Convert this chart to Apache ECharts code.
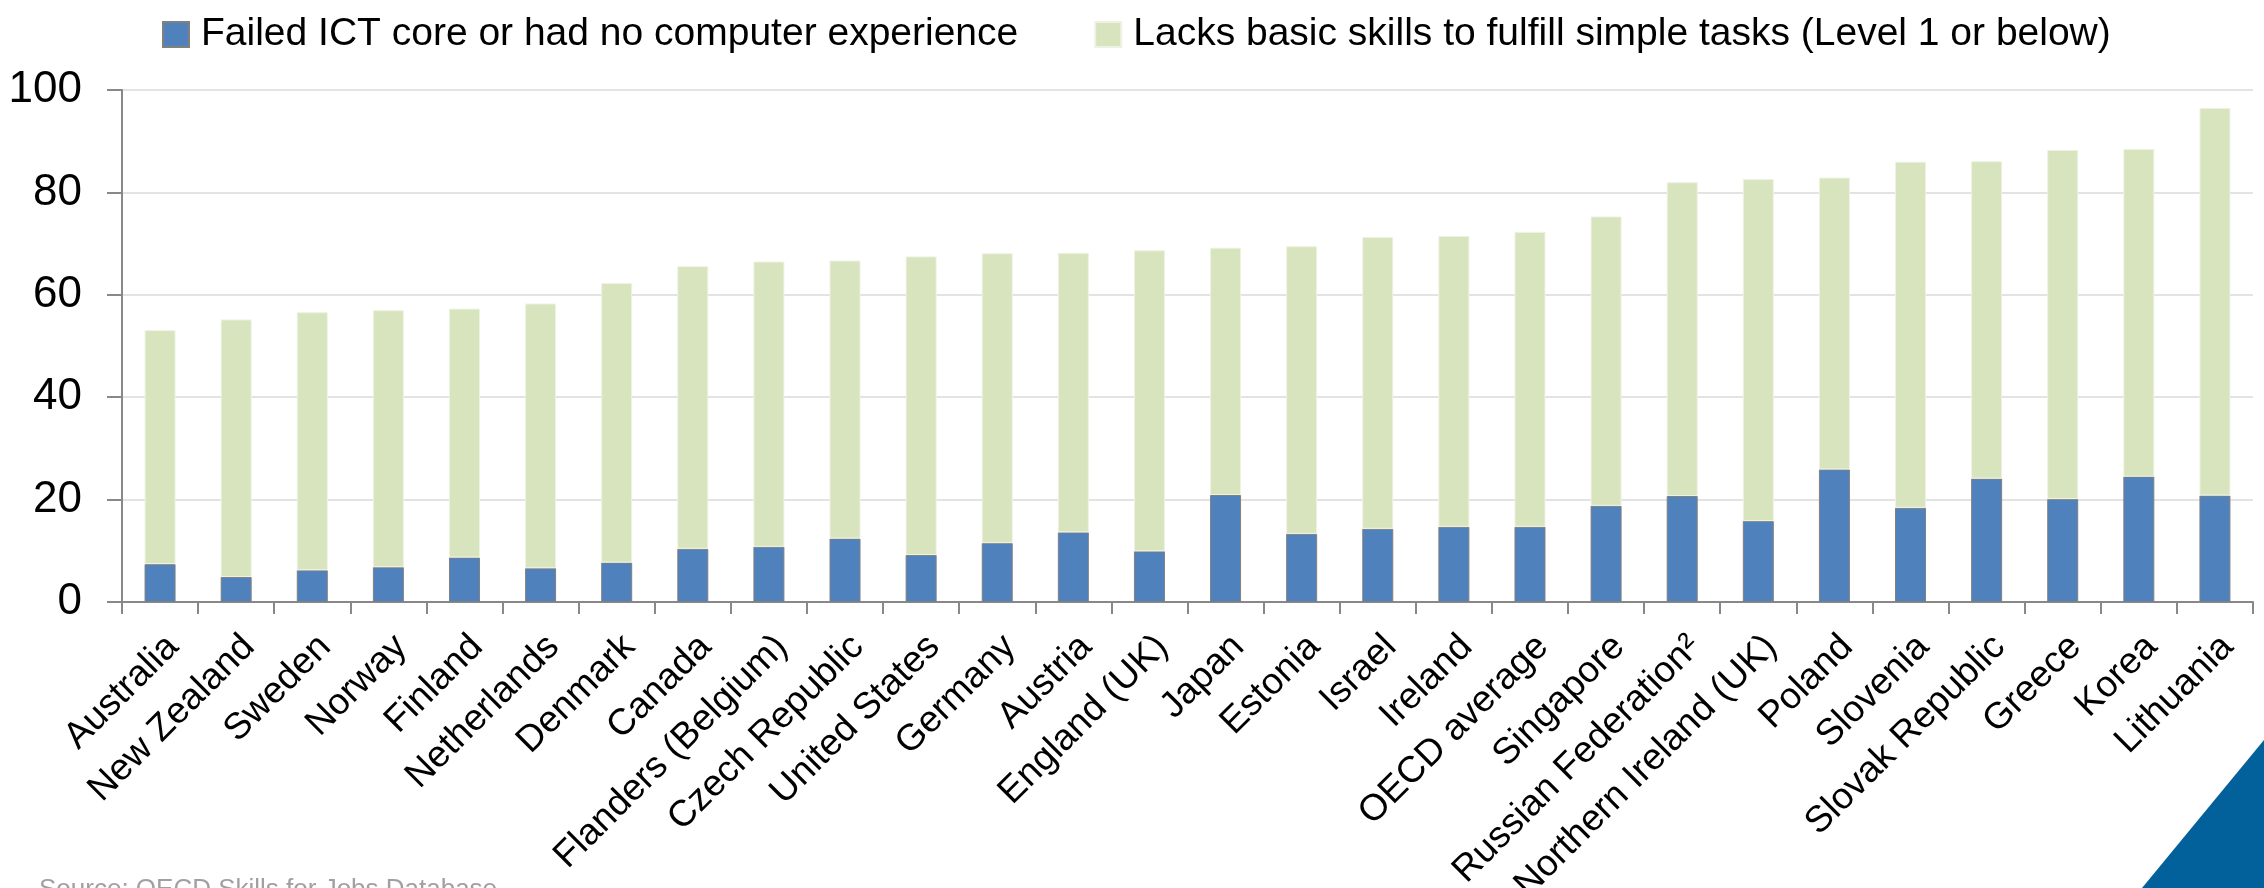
<!DOCTYPE html>
<html>
<head>
<meta charset="utf-8">
<script src="https://cdn.jsdelivr.net/npm/echarts@6/dist/echarts.min.js"></script>
<style>
html,body{margin:0;padding:0;background:#fff;}
#c{width:2264px;height:888px;}
</style>
</head>
<body>
<div id="c"></div>
<script>
const categories = ["Australia","New Zealand","Sweden","Norway","Finland","Netherlands","Denmark","Canada","Flanders (Belgium)","Czech Republic","United States","Germany","Austria","England (UK)","Japan","Estonia","Israel","Ireland","OECD average","Singapore","Russian Federation\u00B2","Northern Ireland (UK)","Poland","Slovenia","Slovak Republic","Greece","Korea","Lithuania"];
// Share who failed ICT core or had no computer experience (blue, bottom)
const failedICT = [7.4,4.9,6.2,6.8,8.7,6.6,7.7,10.4,10.8,12.4,9.2,11.5,13.6,9.9,20.9,13.3,14.3,14.7,14.7,18.8,20.7,15.8,25.9,18.4,24.1,20.1,24.5,20.8];
// Top of each stacked bar (total)
const stackTotal = [53.1,55.2,56.6,57.0,57.3,58.3,62.3,65.6,66.5,66.7,67.5,68.1,68.2,68.7,69.2,69.5,71.3,71.5,72.3,75.3,82.0,82.6,82.9,86.0,86.1,88.3,88.5,96.5];
const seriesNames = ["Failed ICT core or had no computer experience","Lacks basic skills to fulfill simple tasks (Level 1 or below)"];
const yTicks = {min:0, max:100, interval:20};
const sourceNote = "Source: OECD Skills for Jobs Database";

const lacksSkills = stackTotal.map((t,i)=>+(t - failedICT[i]).toFixed(1));

const chart = echarts.init(document.getElementById('c'), null, {renderer:'canvas'});
const FONT = "'Liberation Sans', Arial, sans-serif";
chart.setOption({
  animation:false,
  backgroundColor:'#ffffff',
  legend:{
    top:10, left:157,
    itemWidth:26, itemHeight:25, itemGap:76,
    icon:'rect',
    textStyle:{fontFamily:FONT, fontSize:39, color:'#000', padding:[0,0,0,7]},
    data:seriesNames
  },
  grid:{left:122, right:11, top:90, bottom:286, containLabel:false, outerBoundsMode:'none'},
  xAxis:{
    type:'category', data:categories,
    axisLine:{show:true, lineStyle:{color:'#888', width:2}},
    axisTick:{show:true, length:12, lineStyle:{color:'#888', width:2}},
    axisLabel:{rotate:45, interval:0, margin:52, padding:[0,-18,0,0], fontFamily:FONT, fontSize:37, color:'#000'}
  },
  yAxis:{
    type:'value', min:yTicks.min, max:yTicks.max, interval:yTicks.interval,
    axisLine:{show:true, lineStyle:{color:'#888', width:2}},
    axisTick:{show:true, length:15, lineStyle:{color:'#888', width:2}},
    axisLabel:{margin:40, fontFamily:FONT, fontSize:44, color:'#000'},
    splitLine:{show:true, lineStyle:{color:'#e3e3e3', width:2}}
  },
  series:[
    {name:seriesNames[0], type:'bar', stack:'s', data:failedICT, barWidth:31,
     itemStyle:{color:'#4F81BD', borderColor:'#808080', borderWidth:1}},
    {name:seriesNames[1], type:'bar', stack:'s', data:lacksSkills, barWidth:31,
     itemStyle:{color:'#D7E4BD', borderColor:'#eef2e4', borderWidth:1}}
  ],
  graphic:[
    {type:'text', left:39, top:877, style:{text:sourceNote, font:"26px 'Liberation Sans', Arial, sans-serif", fill:'#a0a0a0'}},
    {type:'polygon', shape:{points:[[2264,740],[2142,888],[2264,888]]}, style:{fill:'#02609A'}}
  ]
});
</script>
</body>
</html>
